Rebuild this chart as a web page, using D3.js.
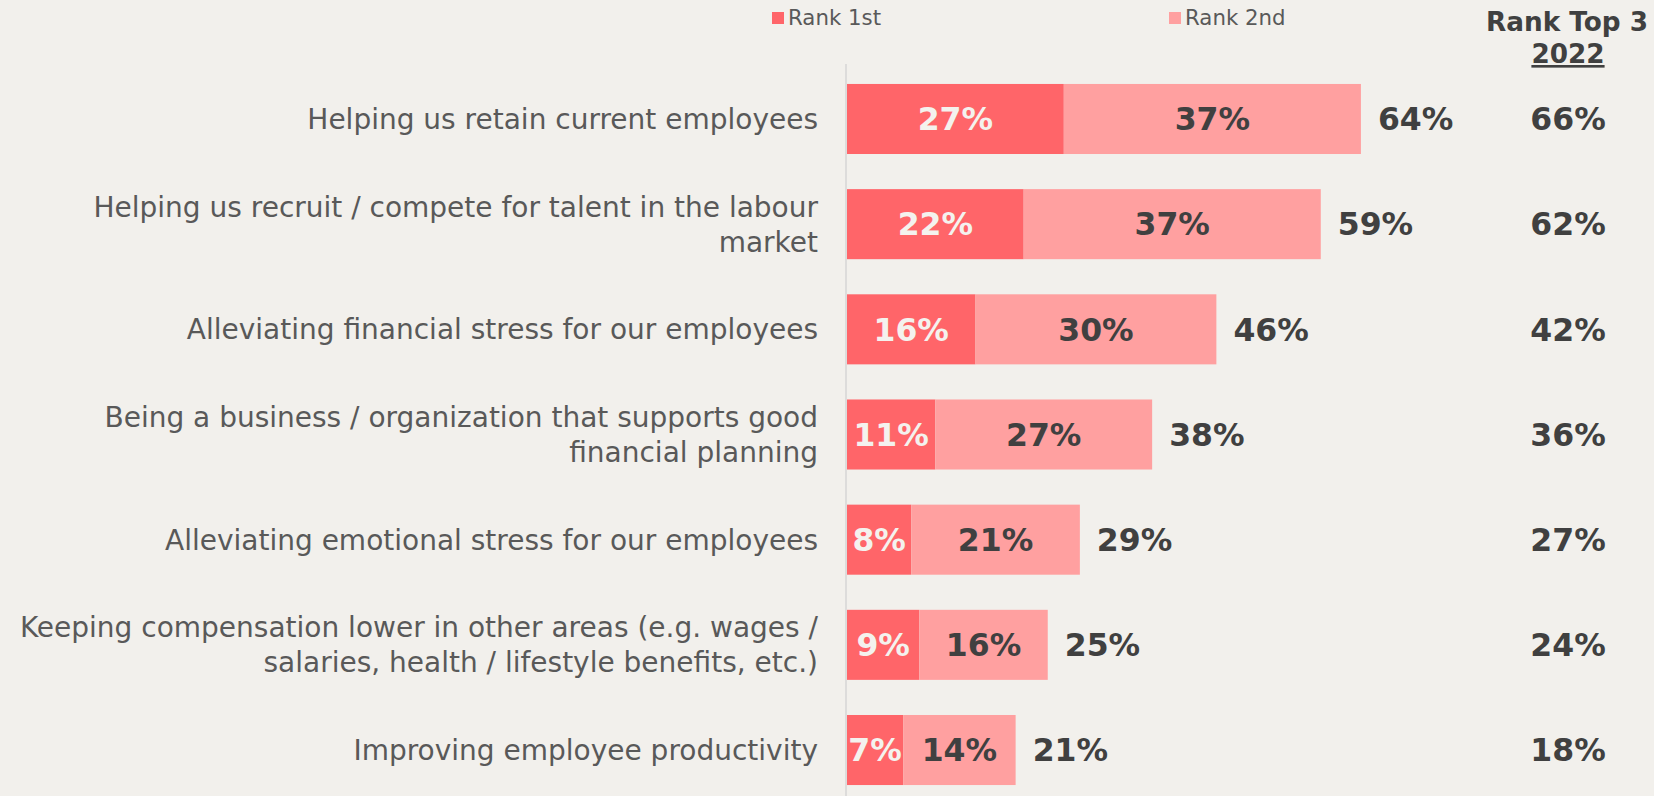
<!DOCTYPE html>
<html>
<head>
<meta charset="utf-8">
<script src="https://cdn.jsdelivr.net/npm/d3@7"></script>
<style>
  html, body { margin: 0; padding: 0; background: #F2F0EC; }
  svg { display: block; }
  text { font-family: "DejaVu Sans", Verdana, sans-serif; }
</style>
</head>
<body>
<svg id="chart" width="1654" height="796"></svg>
<script>
// Reasons for offering the benefit, ranked by employers
const categories = [
  "Helping us retain current employees",
  "Helping us recruit / compete for talent in the labour\nmarket",
  "Alleviating financial stress for our employees",
  "Being a business / organization that supports good\nfinancial planning",
  "Alleviating emotional stress for our employees",
  "Keeping compensation lower in other areas (e.g. wages /\nsalaries, health / lifestyle benefits, etc.)",
  "Improving employee productivity"
];
const rank1st = [27, 22, 16, 11, 8, 9, 7];
const rank2nd = [37, 37, 30, 27, 21, 16, 14];
const rankTop = [64, 59, 46, 38, 29, 25, 21];
const rankTop2022 = [66, 62, 42, 36, 27, 24, 18];
const seriesNames = ["Rank 1st", "Rank 2nd"];
const seriesColors = ["#FF6569", "#FFA0A0"];
const header2022 = ["Rank Top 3", "2022"];

const W = 1654, H = 796;
const VALUE_FONT = 31.5;
const svg = d3.select("#chart");

const rows = categories.map((c, i) => ({
  cat: c, r1: rank1st[i], r2: rank2nd[i], total: rankTop[i], prev: rankTop2022[i]
}));

const x = d3.scaleLinear().domain([0, 100]).range([847, 1650]);
const y = d3.scaleBand()
  .domain(categories)
  .range([66.4, 802.6])
  .paddingInner(0.334)
  .paddingOuter(0.167);

const fmt = v => v + "%";

// Baseline axis at zero
svg.append("line")
  .attr("x1", x(0) - 1).attr("x2", x(0) - 1)
  .attr("y1", 64).attr("y2", H)
  .attr("stroke", "#D6D6D6").attr("stroke-width", 1.5);

const g = svg.append("g");
const row = g.selectAll("g.row").data(rows).join("g").attr("class", "row");

// Stacked segments
row.append("rect")
  .attr("x", x(0))
  .attr("y", d => y(d.cat))
  .attr("width", d => x(d.r1) - x(0))
  .attr("height", y.bandwidth())
  .attr("fill", seriesColors[0]);

row.append("rect")
  .attr("x", d => x(d.r1))
  .attr("y", d => y(d.cat))
  .attr("width", d => x(d.r1 + d.r2) - x(d.r1))
  .attr("height", y.bandwidth())
  .attr("fill", seriesColors[1]);

const mid = d => y(d.cat) + y.bandwidth() / 2;

// Segment value labels
row.append("text")
  .attr("x", d => (x(0) + x(d.r1)) / 2)
  .attr("y", mid)
  .attr("dy", "0.36em")
  .attr("text-anchor", "middle")
  .attr("font-size", VALUE_FONT)
  .attr("font-weight", "bold")
  .attr("fill", "#F4F2EE")
  .text(d => fmt(d.r1));

row.append("text")
  .attr("x", d => (x(d.r1) + x(d.r1 + d.r2)) / 2)
  .attr("y", mid)
  .attr("dy", "0.36em")
  .attr("text-anchor", "middle")
  .attr("font-size", VALUE_FONT)
  .attr("font-weight", "bold")
  .attr("fill", "#404040")
  .text(d => fmt(d.r2));

// Totals
row.append("text")
  .attr("x", d => x(d.total) + 17)
  .attr("y", mid)
  .attr("dy", "0.36em")
  .attr("font-size", VALUE_FONT)
  .attr("font-weight", "bold")
  .attr("fill", "#404040")
  .text(d => fmt(d.total));

// Previous year column
row.append("text")
  .attr("x", 1568)
  .attr("y", mid)
  .attr("dy", "0.36em")
  .attr("text-anchor", "middle")
  .attr("font-size", VALUE_FONT)
  .attr("font-weight", "bold")
  .attr("fill", "#404040")
  .text(d => fmt(d.prev));

// Category labels (right aligned, may wrap to two lines)
row.append("text")
  .attr("text-anchor", "end")
  .attr("font-size", 28)
  .attr("fill", "#595959")
  .each(function(d) {
    const lines = d.cat.split("\n");
    const lh = 35;
    const t = d3.select(this);
    lines.forEach((ln, k) => {
      t.append("tspan")
        .attr("x", 818)
        .attr("y", mid(d) + (k - (lines.length - 1) / 2) * lh)
        .attr("dy", "0.36em")
        .text(ln);
    });
  });

// Legend
const legendX = [772, 1169];
const leg = svg.selectAll("g.legend").data(seriesNames).join("g")
  .attr("class", "legend")
  .attr("transform", (d, i) => `translate(${legendX[i]},0)`);
leg.append("rect")
  .attr("x", 0).attr("y", 12).attr("width", 12).attr("height", 12)
  .attr("fill", (d, i) => seriesColors[i]);
leg.append("text")
  .attr("x", 16).attr("y", 25)
  .attr("font-size", 21.3)
  .attr("fill", "#595959")
  .text(d => d);

// Column header
svg.append("text")
  .attr("x", 1567).attr("y", 31)
  .attr("text-anchor", "middle")
  .attr("font-size", 26.3).attr("font-weight", "bold")
  .attr("fill", "#404040")
  .text(header2022[0]);
svg.append("text")
  .attr("x", 1568).attr("y", 63)
  .attr("text-anchor", "middle")
  .attr("font-size", 26.3).attr("font-weight", "bold")
  .attr("fill", "#404040")
  .attr("text-decoration", "underline")
  .text(header2022[1]);
</script>
</body>
</html>
